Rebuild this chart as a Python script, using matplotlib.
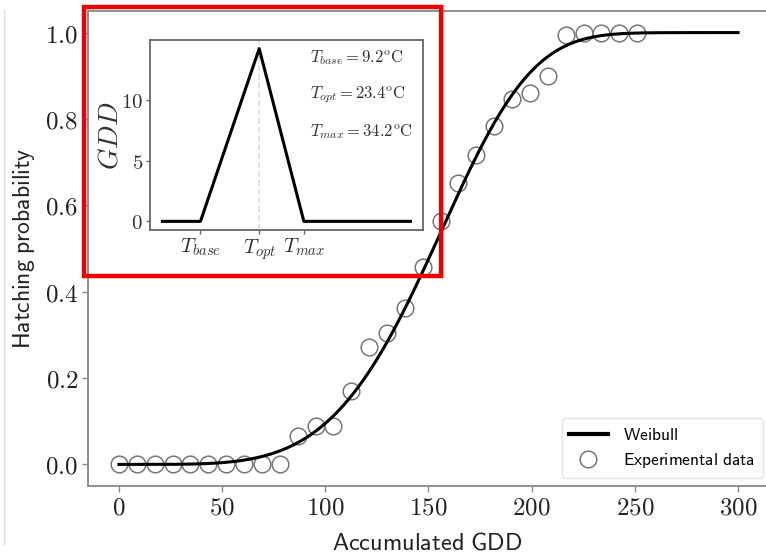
import numpy as np
import matplotlib
matplotlib.use("Agg")
import matplotlib.pyplot as plt
from matplotlib.patches import Rectangle
from matplotlib.lines import Line2D
from matplotlib.ticker import FuncFormatter

plt.rcParams['mathtext.fontset'] = 'cm'

# experimental hatching data
gdd_obs = [0.0, 8.7, 17.3, 26.0, 34.6, 43.3, 52.0, 60.6, 69.3, 77.9,
           86.6, 95.3, 103.9, 112.6, 121.2, 129.9, 138.6, 147.2, 155.9, 164.5,
           173.2, 181.9, 190.5, 199.2, 207.8, 216.5, 225.2, 233.8, 242.5, 251.1]
p_obs = [0.0, 0.0, 0.0, 0.0, 0.0, 0.0, 0.0, 0.0, 0.0, 0.0,
         0.065, 0.090, 0.090, 0.169, 0.272, 0.304, 0.362, 0.458, 0.563, 0.651,
         0.716, 0.783, 0.847, 0.861, 0.900, 0.994, 0.998, 1.0, 1.0, 1.0]

# fitted weibull parameters
weib_k = 4.6
weib_lam = 165.0
gdd_max = 300

# cardinal temperatures for the degree-day model
t_base = 9.2
t_opt = 23.4
t_max = 34.2
temp_pts = [0, t_base, t_opt, t_max, 60]
gdd_pts = [0, 0, t_opt - t_base, 0, 0]

x_fit = np.linspace(0, gdd_max, 400)
y_fit = 1 - np.exp(-(x_fit / weib_lam) ** weib_k)

W, H = 766, 554
fig = plt.figure(figsize=(W / 100, H / 100), dpi=100)

ax = fig.add_axes([88 / W, 1 - 486 / H, 681 / W, 475 / H])
ax.plot(x_fit, y_fit, color='black', lw=2.2, label=r'$\mathsf{Weibull}$', zorder=3)
ax.plot(gdd_obs, p_obs, 'o', ms=12, mfc='none', mec='#777777', mew=1.1,
        label=r'$\mathsf{Experimental\ data}$', zorder=2)
ax.set_xlim(-15, 315)
ax.set_ylim(-0.05, 1.05)
ax.set_xticks(np.arange(0, 301, 50))
ax.set_yticks(np.arange(0, 1.01, 0.2))
ax.xaxis.set_major_formatter(FuncFormatter(lambda v, p: f'${v:.0f}$'))
ax.yaxis.set_major_formatter(FuncFormatter(lambda v, p: f'${v:.1f}$'))
ax.tick_params(labelsize=18, colors='#222222', length=4, width=1, pad=3)
ax.tick_params(axis='both', color='#888888')
for s in ['left', 'bottom', 'top']:
    ax.spines[s].set_color('#888888')
    ax.spines[s].set_linewidth(1.3)
ax.spines['right'].set_visible(False)

ax.set_xlabel(r'$\mathsf{Accumulated\ GDD}$', fontsize=17.5, color='#222222')
ax.set_ylabel(r'$\mathsf{Hatching\ probability}$', fontsize=17, color='#222222')
ax.xaxis.label.set_va('center')
ax.yaxis.label.set_va('center')
ax.xaxis.set_label_coords(0.498, -0.12)
ax.yaxis.set_label_coords(-0.094, 0.5)

leg = ax.legend(loc='lower right', bbox_to_anchor=(0.991, 0.017), borderaxespad=0,
                fontsize=12.5, frameon=True, fancybox=True, edgecolor='#dddddd',
                handlelength=2.2, handletextpad=0.9, borderpad=0.45,
                labelspacing=0.4)
leg.get_frame().set_linewidth(1.0)
leg.get_lines()[0].set_linewidth(3)

# inset: growing degree day model
ins = fig.add_axes([150 / W, 1 - 230 / H, 273 / W, 190 / H])
ins.axvline(t_opt, color='#dddddd', ls='--', lw=1.2, zorder=1)
ins.plot(temp_pts, gdd_pts, color='black', lw=2.2, zorder=2)
ins.set_xlim(-3, 63)
ins.set_ylim(-0.71, 14.91)
ins.set_xticks([t_base, t_opt, t_max])
ins.set_xticklabels([r'$T_{base}$', r'$T_{opt}$', r'$T_{max}$'])
ins.set_yticks([0, 5, 10])
ins.yaxis.set_major_formatter(FuncFormatter(lambda v, p: f'${v:.0f}$'))
ins.tick_params(labelsize=15, colors='#333333', length=3, width=1, pad=2)
ins.tick_params(axis='both', color='#666666')
for s in ins.spines.values():
    s.set_color('#666666')
    s.set_linewidth(1.3)
ins.set_ylabel(r'$GDD$', fontsize=20, color='#333333')
ins.yaxis.label.set_va('center')
ins.yaxis.set_label_coords(-0.147, 0.5)

notes = [r'$T_{base} = %.1f^{\mathrm{o}}\mathrm{C}$' % t_base,
         r'$T_{opt} = %.1f^{\mathrm{o}}\mathrm{C}$' % t_opt,
         r'$T_{max} = %.1f^{\mathrm{o}}\mathrm{C}$' % t_max]
for i, txt in enumerate(notes):
    ins.text(0.585, 0.905 - i * 0.193, txt, transform=ins.transAxes,
             fontsize=12, color='#333333', va='center', ha='left')

# highlight box around the inset
fig.add_artist(Rectangle((84 / W, 1 - 275.5 / H), 356.5 / W, 268.5 / H,
                         transform=fig.transFigure, fill=False,
                         edgecolor='#ee0000', lw=3.2, zorder=10))
fig.add_artist(Line2D([4 / W, 4 / W], [1 - 545 / H, 1 - 10 / H],
                      transform=fig.transFigure, color='#dddddd', lw=1))

fig.savefig('out.png', dpi=100)
